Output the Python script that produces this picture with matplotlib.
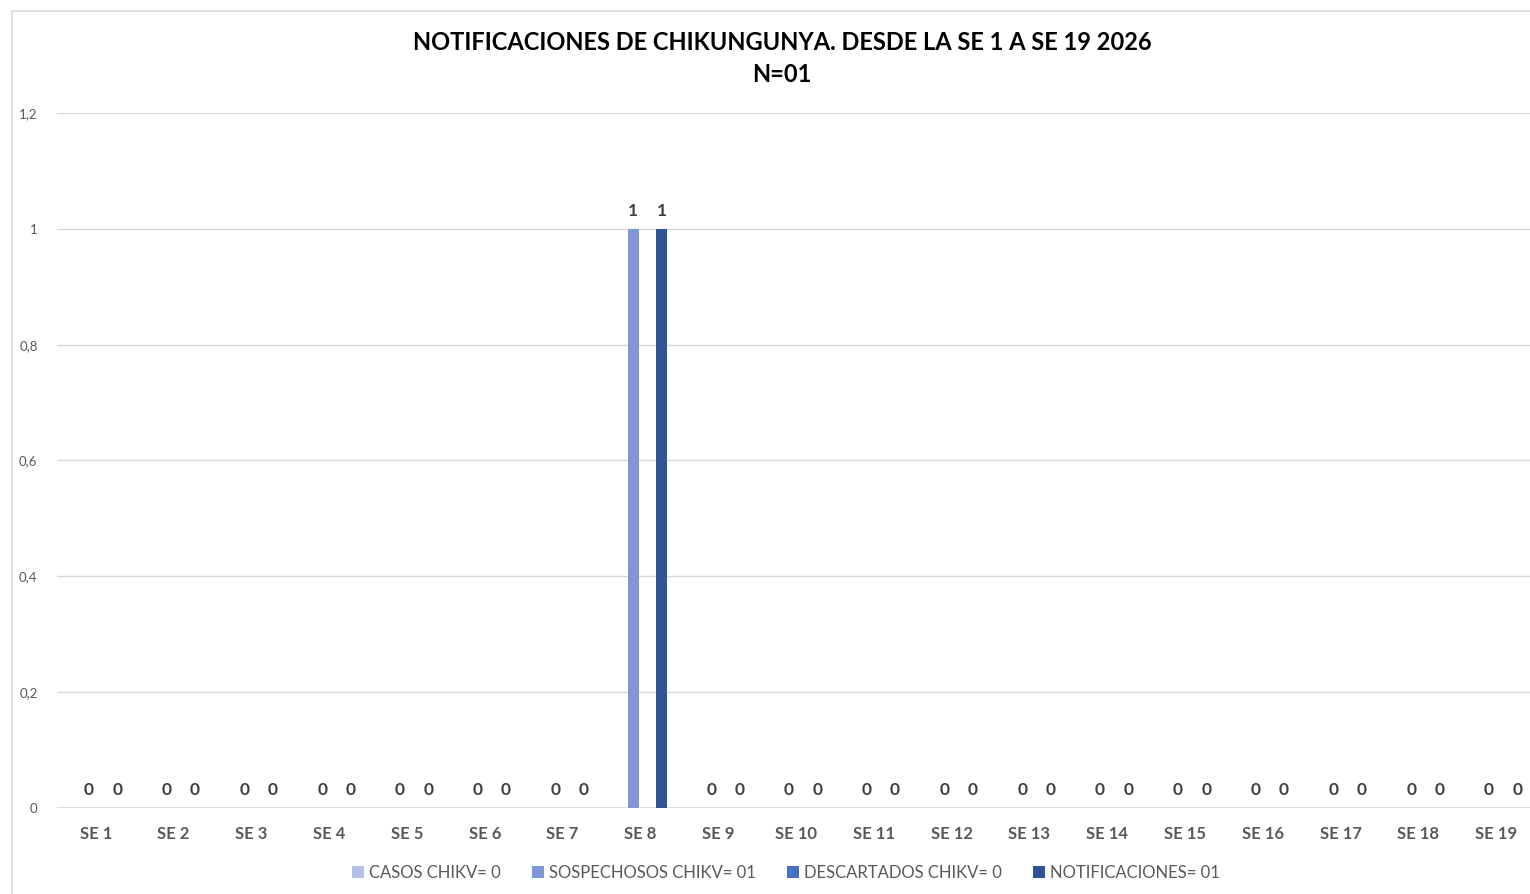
import numpy as np
import matplotlib.pyplot as plt
from matplotlib.patches import Rectangle

plt.rcParams['font.family'] = ['Lato', 'DejaVu Sans']

semanas = ['SE %d' % i for i in range(1, 20)]
casos = [0] * 19
sospechosos = [0, 0, 0, 0, 0, 0, 0, 1, 0, 0, 0, 0, 0, 0, 0, 0, 0, 0, 0]
descartados = [0] * 19
notificaciones = [0, 0, 0, 0, 0, 0, 0, 1, 0, 0, 0, 0, 0, 0, 0, 0, 0, 0, 0]

series = [casos, sospechosos, descartados, notificaciones]
nombres = ['CASOS CHIKV= 0', 'SOSPECHOSOS CHIKV= 01', 'DESCARTADOS CHIKV= 0', 'NOTIFICACIONES= 01']
colores = ['#b4c1e6', '#7f97d4', '#4472c4', '#2f5597']
con_etiqueta = [False, True, False, True]

fig = plt.figure(figsize=(15.3, 8.94), dpi=100)
ax = fig.add_axes([57/1530, 86/894, (1535-57)/1530, (808-113)/894])

x = np.arange(len(semanas))
paso = 0.182
ancho = 0.1375
for i, (vals, nom, col) in enumerate(zip(series, nombres, colores)):
    pos = x + (i - 1.5) * paso
    ax.bar(pos, vals, width=ancho, color=col, label=nom, zorder=3)
    if con_etiqueta[i]:
        for p, v in zip(pos, vals):
            ax.annotate(str(v), (p, v), xytext=(0, 7), textcoords='offset points',
                        ha='center', va='bottom', fontsize=12.5, fontweight='bold',
                        color='#404040')

ax.set_xlim(-0.5, 18.5)
ax.set_ylim(0, 1.2)
ax.set_yticks([0, 0.2, 0.4, 0.6, 0.8, 1.0, 1.2])
ax.set_yticklabels(['0', '0,2', '0,4', '0,6', '0,8', '1', '1,2'], color='#595959', fontsize=9.5)
ax.set_xticks(x)
ax.set_xticklabels(semanas, color='#595959', fontsize=12, fontweight='bold')
ax.tick_params(axis='both', length=0)
ax.tick_params(axis='y', pad=14)
ax.tick_params(axis='x', pad=13)
ax.grid(axis='y', color='#d9d9d9', linewidth=1, zorder=0)
for s in ax.spines.values():
    s.set_visible(False)
ax.axhline(0, color='#d9d9d9', linewidth=1.2, zorder=2)

fig.text(782/1530, 1 - 43/894, 'NOTIFICACIONES DE CHIKUNGUNYA. DESDE LA SE 1 A SE 19 2026',
         ha='center', va='center', fontsize=17, fontweight='bold', color='black')
fig.text(782/1530, 1 - 75/894, 'N=01', ha='center', va='center', fontsize=17,
         fontweight='bold', color='black')

leg = fig.legend(loc='center', bbox_to_anchor=(786/1530, 1 - 873/894), ncol=4, frameon=False,
                 fontsize=12, handlelength=0.7, handleheight=0.7, handletextpad=0.3,
                 columnspacing=1.9)
for t in leg.get_texts():
    t.set_color('#595959')

fig.add_artist(Rectangle((12/1530, -0.05), 1.1, 1 - 11/894 + 0.05, transform=fig.transFigure,
                         fill=False, edgecolor='#d9d9d9', linewidth=1.2))

fig.savefig('out.png', dpi=100)
